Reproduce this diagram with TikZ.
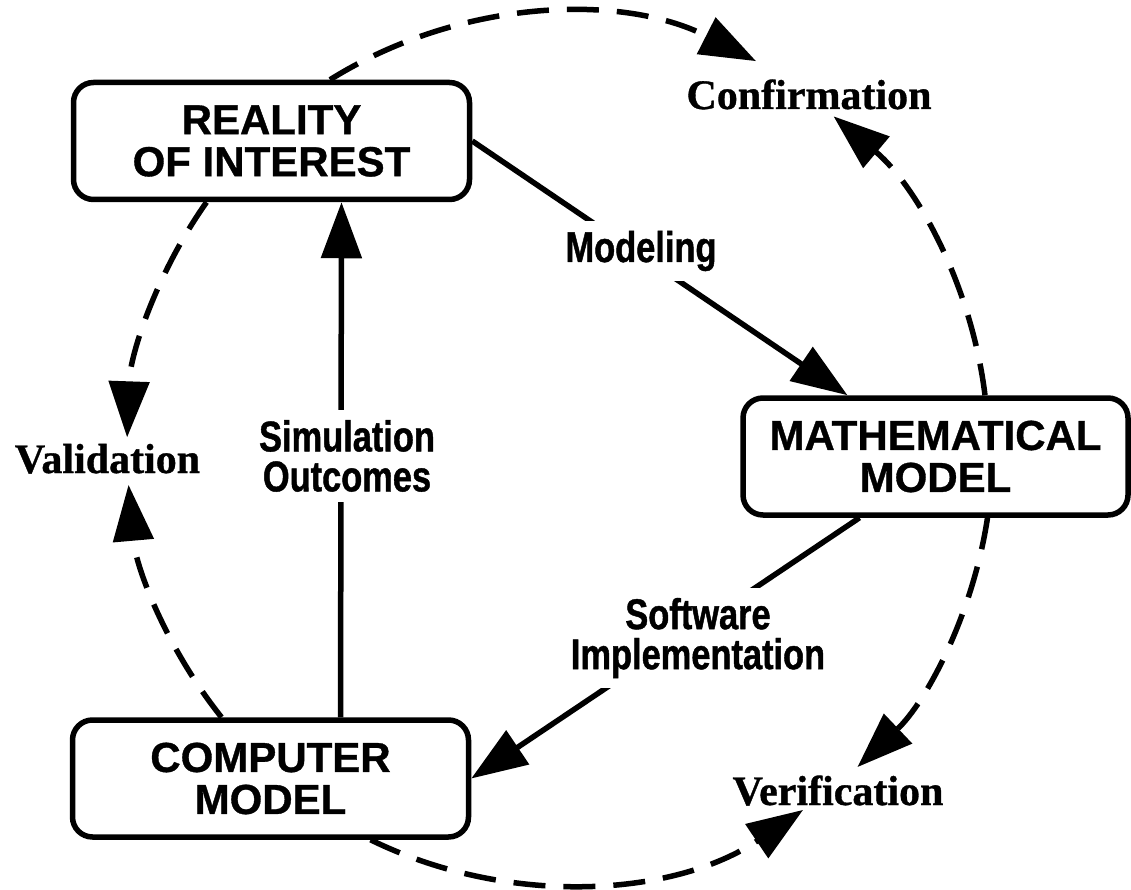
\documentclass[tikz,border=0pt]{standalone}
\usepackage{fontspec}
\setmainfont{Liberation Serif}[BoldFeatures={FakeBold=0.8}]
\newfontfamily\boxfont{Liberation Sans}[BoldFeatures={FakeBold=0.8}]
\newfontfamily\narrowfont{Liberation Sans}[FakeStretch=0.8, BoldFeatures={FakeBold=1}]
\usetikzlibrary{arrows.meta}

\begin{document}
\begin{tikzpicture}[x=1pt, y=-1pt, line width=5.5pt,
        >={Triangle[length=56pt, width=40pt]},
        box/.style={draw, rounded corners=20pt, minimum width=396pt, minimum height=117pt,
            inner sep=0pt, align=center, font=\boxfont\bfseries\fontsize{42}{42}\selectfont},
        lbl/.style={fill=white, inner sep=10pt, align=center,
            font=\narrowfont\bfseries\fontsize{43}{40}\selectfont},
        vlbl/.style={anchor=base, inner sep=0pt, font=\bfseries\fontsize{42}{42}\selectfont},
        dasharr/.style={->, dash pattern=on 32pt off 18pt}]
        \useasboundingbox (0,0) rectangle (1131,890);

        % The three boxes
        \node[box] (REAL) at (271.5,141) {REALITY\\OF INTEREST};
        \node[box, minimum width=385pt] (MATH) at (935.5,456.5) {MATHEMATICAL\\MODEL};
        \node[box] (COMP) at (270.5,778.5) {COMPUTER\\MODEL};

        % Solid arrows between boxes
        \draw[->] (REAL.east) -- ([xshift=-88pt]MATH.north);
        \draw[->] ([xshift=-76pt]MATH.south) -- (COMP.east);
        \draw[->] ([xshift=70pt]COMP.north) -- ([xshift=70pt]REAL.south);

        % Labels on the solid arrows
        \node[lbl, anchor=base] (MOD) at (641,262) {Modeling};
        \node[lbl] (SIM) at (347,456) {Simulation\\Outcomes};
        \node[lbl] (SOFT) at (698,638) {Software\\Implementation};

        % Dashed arcs round the cycle
        \draw[dasharr] ([xshift=58.5pt]REAL.north) arc[start angle=-122, end angle=-63, radius=433];
        \draw[dasharr] ([xshift=49.5pt]MATH.north) arc[start angle=-7, end angle=-50, radius=433];
        \draw[dasharr] ([xshift=52pt]MATH.south) arc[start angle=8.6, end angle=46.5, radius=433];
        \draw[dasharr] ([xshift=100pt]COMP.south) arc[start angle=116.1, end angle=56, radius=433];
        \draw[dasharr] ([xshift=-65pt]REAL.south) arc[start angle=-144.7, end angle=-178, radius=433];
        \draw[dasharr] ([xshift=-49pt]COMP.north) arc[start angle=141.4, end angle=175, radius=433];

        % Labels at the ends of the dashed arcs
        \node[vlbl] (CONF) at (809,109) {Confirmation};
        \node[vlbl] (VAL) at (107.5,473) {Validation};
        \node[vlbl] (VER) at (838,805) {Verification};
    \end{tikzpicture}
\end{document}
